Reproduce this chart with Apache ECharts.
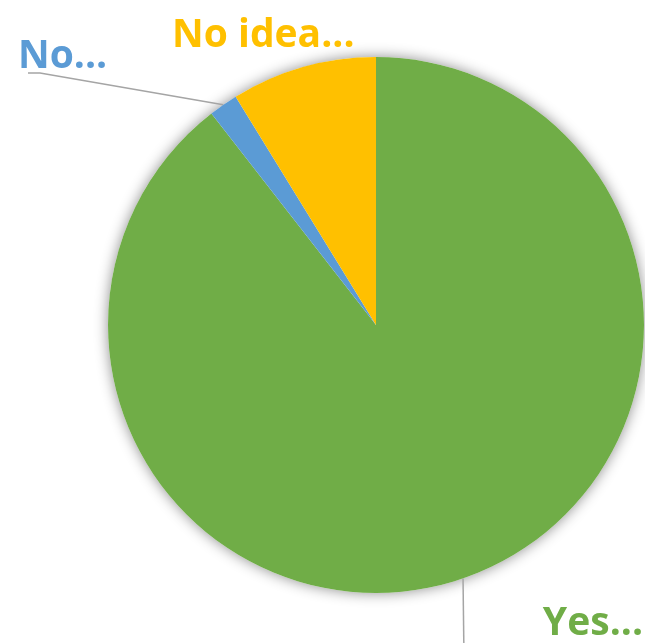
<!DOCTYPE html>
<html>
<head>
<meta charset="utf-8">
<script src="https://cdn.jsdelivr.net/npm/echarts@6/dist/echarts.min.js"></script>
<style>html,body{margin:0;padding:0;background:#fff}#c{width:645px;height:643px}</style>
</head>
<body>
<div id="c"></div>
<script>
const categories = ['Yes', 'No', 'No idea'];
const values = [51, 1, 5];
const labelTexts = ['Yes...', 'No...', 'No idea...'];
const colors = ['#70AD47', '#5B9BD5', '#FFC000'];

const chart = echarts.init(document.getElementById('c'), null, {renderer: 'canvas'});
const center = [376, 325];
const radius = 268;

const labelPos = [
  {x: 643, y: 624, align: 'right'},
  {x: 18, y: 57, align: 'left'},
  {x: 172, y: 36, align: 'left'}
];

chart.setOption({
  animation: false,
  series: [
    {
      type: 'pie',
      silent: true,
      center: center,
      radius: radius,
      z: 1,
      label: {show: false},
      labelLine: {show: false},
      itemStyle: {color: '#ffffff', shadowBlur: 14, shadowColor: 'rgba(0,0,0,0.45)', shadowOffsetX: 0, shadowOffsetY: 0},
      data: [{value: 1, name: ''}]
    },
    {
      type: 'pie',
      center: center,
      radius: radius,
      startAngle: 90,
      clockwise: true,
      z: 2,
      itemStyle: {borderWidth: 0},
      label: {
        show: true,
        position: 'outside',
        fontFamily: 'Open Sans',
        fontWeight: 'bold',
        fontSize: 39,
        formatter: p => labelTexts[p.dataIndex]
      },
      labelLine: {show: true, lineStyle: {color: '#A5A5A5', width: 1.5}},
      labelLayout: function (params) {
        const i = params.dataIndex;
        const lp = labelPos[i];
        const p0 = params.labelLinePoints ? params.labelLinePoints[0] : [0, 0];
        let pts;
        if (i === 0) {
          pts = [p0, [p0[0] + 1.5, 700], [p0[0] + 1.5, 700]];
        } else if (i === 1) {
          pts = [p0, [40, 73], [28, 73]];
        } else {
          pts = [p0, p0, p0];
        }
        return {x: lp.x, y: lp.y, align: lp.align, verticalAlign: 'middle', labelLinePoints: pts};
      },
      data: categories.map((c, i) => ({
        name: c,
        value: values[i],
        itemStyle: {color: colors[i]},
        label: {color: colors[i]},
        labelLine: {show: i !== 2}
      }))
    }
  ]
});
</script>
</body>
</html>
